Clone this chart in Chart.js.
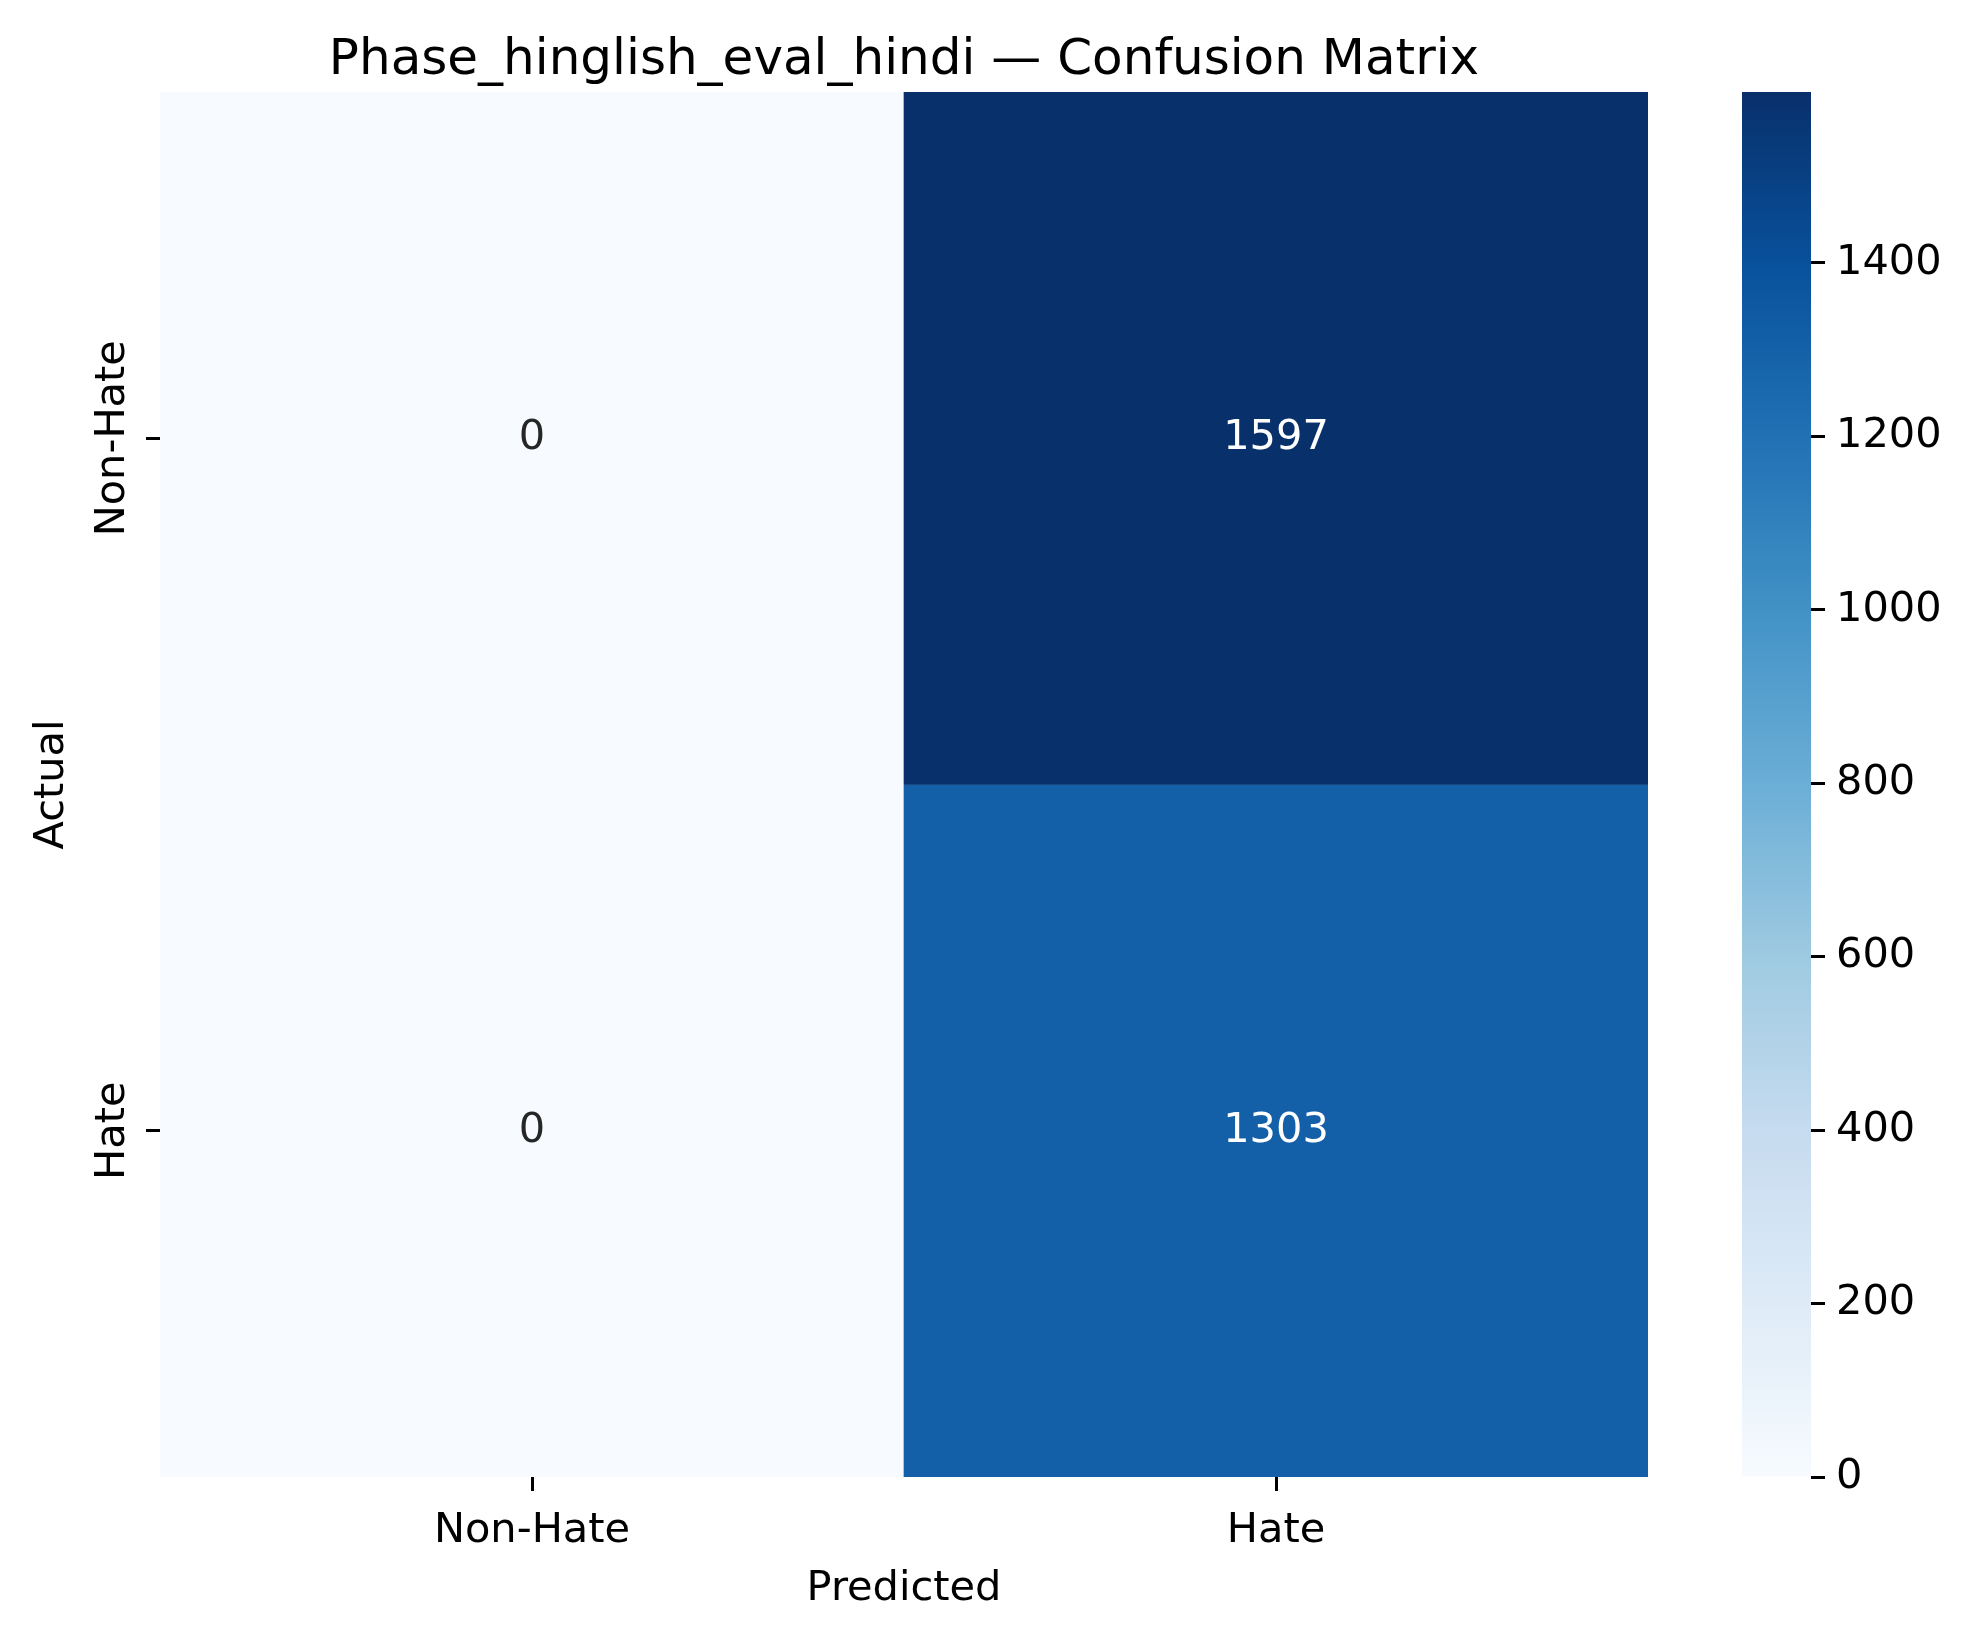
<!DOCTYPE html>
<html>
<head>
<meta charset="utf-8">
<script src="https://cdn.jsdelivr.net/npm/chart.js@4"></script>
<style>
  html, body { margin: 0; padding: 0; background: #fff; }
  #wrap { position: relative; width: 1975px; height: 1638px; }
  #mainBox { position: absolute; left: 0; top: 0; width: 1700px; height: 1638px; }
  #cbBox { position: absolute; left: 1700px; top: 0; width: 275px; height: 1638px; }
</style>
</head>
<body>
<div id="wrap">
  <div id="mainBox"><canvas id="chart1"></canvas></div>
  <div id="cbBox"><canvas id="chart2"></canvas></div>
</div>
<script>
// confusion matrix data
const predictedLabels = ['Non-Hate', 'Hate'];
const actualLabels = ['Non-Hate', 'Hate'];
const actualNonHate = [0, 1597];
const actualHate = [0, 1303];
const colorbarTicks = [0, 200, 400, 600, 800, 1000, 1200, 1400];

const matrix = [actualNonHate, actualHate];
const vmin = 0;
const vmax = Math.max(...matrix.flat());

// matplotlib "Blues"
const bluesStops = ['#f7fbff', '#deebf7', '#c6dbef', '#9ecae1', '#6baed6', '#4292c6', '#2171b5', '#08519c', '#08306b'];
function hexRgb(h) {
  return [parseInt(h.slice(1, 3), 16), parseInt(h.slice(3, 5), 16), parseInt(h.slice(5, 7), 16)];
}
function blues(t) {
  t = Math.min(1, Math.max(0, t));
  const pos = t * (bluesStops.length - 1);
  const i = Math.min(Math.floor(pos), bluesStops.length - 2);
  const f = pos - i;
  const a = hexRgb(bluesStops[i]), b = hexRgb(bluesStops[i + 1]);
  return a.map((c, k) => Math.round(c + (b[k] - c) * f));
}
function rgbStr(c) { return 'rgb(' + c.join(',') + ')'; }
function cellColor(v) { return rgbStr(blues((v - vmin) / (vmax - vmin))); }
// seaborn picks annotation colour from luminance
function textColor(v) {
  const c = blues((v - vmin) / (vmax - vmin)).map(x => {
    x = x / 255;
    return x <= 0.03928 ? x / 12.92 : Math.pow((x + 0.055) / 1.055, 2.4);
  });
  const lum = 0.2126 * c[0] + 0.7152 * c[1] + 0.0722 * c[2];
  return lum > 0.408 ? '#262626' : '#ffffff';
}

Chart.defaults.font.family = '"DejaVu Sans", sans-serif';
Chart.defaults.color = '#000';
const FONT = 41.5;

const cellLabels = {
  id: 'cellLabels',
  afterDatasetsDraw(chart) {
    const ctx = chart.ctx;
    ctx.save();
    ctx.font = FONT + 'px "DejaVu Sans"';
    ctx.textAlign = 'center';
    ctx.textBaseline = 'middle';
    chart.data.datasets.forEach((ds, i) => {
      chart.getDatasetMeta(i).data.forEach((bar, j) => {
        const v = matrix[i][j];
        ctx.fillStyle = textColor(v);
        ctx.fillText(String(v), bar.x, (bar.y + bar.base) / 2);
      });
    });
    ctx.restore();
  }
};

// rotated row labels, placed by the y scale
const rowTickLabels = {
  id: 'rowTickLabels',
  afterDraw(chart) {
    const ctx = chart.ctx;
    const y = chart.scales.y;
    ctx.save();
    ctx.font = FONT + 'px "DejaVu Sans"';
    ctx.fillStyle = '#000';
    ctx.textAlign = 'center';
    ctx.textBaseline = 'middle';
    actualLabels.forEach((lab, i) => {
      ctx.save();
      ctx.translate(y.right - 47, y.getPixelForValue(i + 0.5));
      ctx.rotate(-Math.PI / 2);
      ctx.fillText(lab, 0, 0);
      ctx.restore();
    });
    ctx.restore();
  }
};

new Chart(document.getElementById('chart1').getContext('2d'), {
  type: 'bar',
  data: {
    labels: predictedLabels,
    datasets: matrix.map((row, i) => ({
      label: actualLabels[i],
      data: row.map(() => [i, i + 1]),
      backgroundColor: row.map(cellColor),
      borderWidth: 0,
      grouped: false,
      barPercentage: 1,
      categoryPercentage: 1
    }))
  },
  options: {
    responsive: true,
    maintainAspectRatio: false,
    animation: false,
    layout: { padding: { left: 0, right: 52, top: 0, bottom: 0 } },
    plugins: {
      legend: { display: false },
      tooltip: { enabled: false },
      title: {
        display: true,
        fullSize: false,
        text: 'Phase_hinglish_eval_hindi — Confusion Matrix',
        font: { size: 50, weight: 'normal' },
        color: '#000',
        padding: { top: 31, bottom: 1 }
      }
    },
    scales: {
      x: {
        offset: true,
        grid: { offset: false, drawOnChartArea: false, tickLength: 14, tickWidth: 3, tickColor: '#000' },
        border: { display: false },
        ticks: { font: { size: FONT }, padding: 15, maxRotation: 0 },
        title: { display: true, text: 'Predicted', font: { size: FONT }, padding: { top: 0, bottom: 24 } },
        afterFit(scale) { scale.height = 161; }
      },
      y: {
        min: 0,
        max: actualLabels.length,
        reverse: true,
        grid: { drawOnChartArea: false, tickLength: 14, tickWidth: 3, tickColor: '#000' },
        border: { display: false },
        ticks: { display: false },
        afterBuildTicks(scale) { scale.ticks = actualLabels.map((_, i) => ({ value: i + 0.5 })); },
        title: { display: true, text: 'Actual', font: { size: FONT }, padding: { top: 27, bottom: 0 } },
        afterFit(scale) { scale.width = 160; }
      }
    }
  },
  plugins: [cellLabels, rowTickLabels]
});

// colour bar
new Chart(document.getElementById('chart2').getContext('2d'), {
  type: 'bar',
  data: {
    labels: [''],
    datasets: [{
      data: [[vmin, vmax]],
      backgroundColor(ctx) {
        const chart = ctx.chart;
        const y = chart.scales.y;
        if (!chart.chartArea || !y) return bluesStops[4];
        const y0 = y.getPixelForValue(vmin), y1 = y.getPixelForValue(vmax);
        if (!isFinite(y0) || !isFinite(y1)) return bluesStops[4];
        const g = chart.ctx.createLinearGradient(0, y0, 0, y1);
        bluesStops.forEach((c, i) => g.addColorStop(i / (bluesStops.length - 1), c));
        return g;
      },
      borderWidth: 0,
      barPercentage: 1,
      categoryPercentage: 1
    }]
  },
  options: {
    responsive: true,
    maintainAspectRatio: false,
    animation: false,
    layout: { padding: { left: 42, right: 0, top: 92, bottom: 161 } },
    plugins: { legend: { display: false }, tooltip: { enabled: false } },
    scales: {
      x: { display: false },
      y: {
        position: 'right',
        min: vmin,
        max: vmax,
        grid: { drawOnChartArea: false, tickLength: 14, tickWidth: 3, tickColor: '#000' },
        border: { display: false },
        ticks: { font: { size: FONT }, padding: 11, callback: v => String(v) },
        afterBuildTicks(scale) { scale.ticks = colorbarTicks.map(v => ({ value: v })); },
        afterFit(scale) { scale.width = 164; }
      }
    }
  }
});
</script>
</body>
</html>
